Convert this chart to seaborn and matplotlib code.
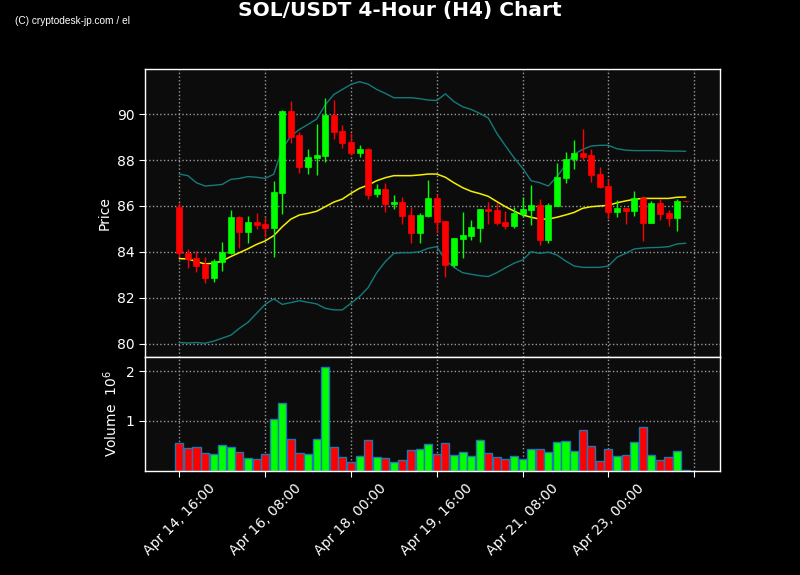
# SOL/USDT 4-hour candles with 20-period Bollinger bands and volume panel

import numpy as np
import pandas as pd
import seaborn as sns
import matplotlib
matplotlib.use("Agg")
import matplotlib.pyplot as plt

# candle values (index 0 = Apr 14 16:00, 4h steps)
opens = [85.97, 83.97, 83.74, 83.48, 82.88, 83.58, 83.97, 85.52, 84.88, 85.30,
         85.22, 85.06, 86.58, 90.13, 89.09, 87.71, 88.10, 88.19, 89.96, 89.26,
         88.78, 88.32, 88.48, 86.52, 86.74, 86.09, 86.17, 85.61, 84.83, 85.57,
         86.35, 85.33, 83.45, 84.57, 84.71, 85.06, 85.87, 85.83, 85.30, 85.14,
         85.67, 85.83, 86.04, 84.54, 86.00, 87.22, 88.04, 88.30, 88.20, 87.39,
         86.87, 85.75, 85.91, 85.80, 86.35, 85.28, 86.13, 85.70, 85.49, 86.22]
highs = [86.12, 84.12, 84.03, 83.77, 83.68, 84.45, 85.81, 85.58, 85.55, 85.68,
         85.51, 87.10, 90.17, 90.55, 89.23, 88.46, 89.55, 90.72, 90.61, 89.51,
         89.19, 88.64, 88.52, 86.97, 86.99, 86.46, 86.38, 85.96, 85.68, 87.12,
         86.51, 85.33, 84.59, 85.75, 85.38, 85.87, 86.19, 86.14, 85.80, 85.97,
         86.38, 86.90, 86.29, 86.12, 87.86, 88.33, 88.88, 89.33, 88.46, 87.71,
         87.16, 86.26, 85.91, 86.64, 86.42, 86.23, 86.29, 85.81, 86.29, 86.22]
lows = [83.80, 83.29, 83.12, 82.64, 82.68, 83.19, 83.90, 84.16, 84.41, 84.99,
        84.64, 83.77, 85.64, 88.72, 87.45, 87.38, 87.35, 87.93, 88.90, 88.51,
        88.22, 88.14, 86.29, 86.41, 85.75, 85.88, 85.23, 84.41, 84.41, 85.54,
        84.84, 82.93, 83.33, 83.72, 84.54, 84.42, 85.23, 85.17, 84.99, 85.03,
        85.51, 85.17, 84.30, 84.41, 85.98, 86.99, 87.59, 88.00, 87.06, 86.80,
        85.45, 85.51, 85.20, 85.57, 84.48, 85.28, 85.39, 85.12, 84.90, 86.18]
closes = [83.94, 83.68, 83.41, 82.88, 83.61, 83.99, 85.51, 84.88, 85.29, 85.17,
          85.06, 86.61, 90.13, 89.01, 87.71, 88.13, 88.22, 89.97, 89.23, 88.75,
          88.32, 88.48, 86.48, 86.74, 86.09, 86.19, 85.57, 84.83, 85.61, 86.35,
          85.30, 83.45, 84.59, 84.74, 85.09, 85.87, 85.78, 85.26, 85.14, 85.70,
          85.87, 86.04, 84.54, 86.04, 87.26, 88.04, 88.30, 88.13, 87.36, 86.84,
          85.75, 85.91, 85.80, 86.36, 85.28, 86.13, 85.67, 85.49, 86.22, 86.20]
# volume in millions
volumes = [0.56, 0.46, 0.48, 0.36, 0.34, 0.52, 0.48, 0.38, 0.26, 0.24,
           0.34, 1.04, 1.36, 0.64, 0.36, 0.34, 0.64, 2.08, 0.48, 0.28,
           0.18, 0.30, 0.62, 0.28, 0.26, 0.18, 0.22, 0.42, 0.44, 0.54,
           0.34, 0.56, 0.32, 0.38, 0.30, 0.62, 0.36, 0.28, 0.24, 0.30,
           0.24, 0.44, 0.44, 0.38, 0.58, 0.60, 0.40, 0.82, 0.50, 0.20,
           0.44, 0.30, 0.32, 0.58, 0.88, 0.32, 0.22, 0.28, 0.40, 0.01]
# Bollinger bands (20, 2)
bb_up = [87.39, 87.32, 87.01, 86.87, 86.90, 86.94, 87.16, 87.20, 87.28, 87.25,
         87.20, 87.38, 88.51, 89.04, 89.33, 89.55, 89.78, 90.40, 90.85, 91.07,
         91.29, 91.41, 91.30, 91.07, 90.90, 90.71, 90.71, 90.71, 90.67, 90.61,
         90.59, 90.88, 90.54, 90.32, 90.20, 90.03, 89.83, 89.16, 88.62, 88.10,
         87.64, 87.10, 87.01, 86.87, 87.28, 87.78, 88.25, 88.46, 88.61, 88.64,
         88.64, 88.49, 88.43, 88.41, 88.41, 88.41, 88.41, 88.39, 88.39, 88.38]
bb_mid = [83.71, 83.70, 83.58, 83.48, 83.51, 83.61, 83.80, 83.97, 84.14, 84.33,
          84.48, 84.71, 85.10, 85.43, 85.61, 85.68, 85.77, 85.97, 86.17, 86.30,
          86.55, 86.77, 86.91, 87.10, 87.23, 87.32, 87.32, 87.32, 87.35, 87.39,
          87.39, 87.25, 87.01, 86.80, 86.64, 86.54, 86.42, 86.19, 85.97, 85.78,
          85.61, 85.51, 85.43, 85.43, 85.51, 85.61, 85.72, 85.90, 85.97, 86.00,
          86.03, 86.14, 86.22, 86.29, 86.33, 86.33, 86.33, 86.33, 86.38, 86.39]
bb_low = [80.06, 80.04, 80.06, 80.03, 80.12, 80.25, 80.38, 80.68, 80.94, 81.33,
          81.72, 81.96, 81.72, 81.80, 81.88, 81.81, 81.74, 81.55, 81.48, 81.48,
          81.77, 82.06, 82.45, 83.10, 83.58, 83.94, 83.97, 83.97, 84.01, 84.16,
          84.23, 83.65, 83.33, 83.10, 83.03, 82.97, 82.93, 83.10, 83.31, 83.51,
          83.65, 84.01, 83.94, 83.99, 83.87, 83.61, 83.39, 83.33, 83.33, 83.33,
          83.39, 83.77, 83.94, 84.13, 84.17, 84.19, 84.20, 84.23, 84.35, 84.38]

tick_pos = [0, 10, 20, 30, 40, 50, 60]
tick_labels = ["Apr 14, 16:00", "Apr 16, 08:00", "Apr 18, 00:00",
               "Apr 19, 16:00", "Apr 21, 08:00", "Apr 23, 00:00", ""]

df = pd.DataFrame({"idx": np.arange(len(opens)), "open": opens, "high": highs,
                   "low": lows, "close": closes, "volume": volumes,
                   "up": bb_up, "mid": bb_mid, "lo": bb_low})
df["dir"] = np.where(df["close"] >= df["open"], "up", "down")

UP, DOWN = "#00ff00", "#ff0000"
colors = df["dir"].map({"up": UP, "down": DOWN})

sns.set_style("dark")
plt.rcParams.update({
    "figure.facecolor": "black",
    "axes.facecolor": "#0c0c0c",
    "axes.edgecolor": "white",
    "axes.labelcolor": "white",
    "xtick.color": "white",
    "ytick.color": "white",
    "text.color": "white",
    "xtick.bottom": True,
    "ytick.left": True,
    "font.family": ["DejaVu Sans"],
})

fig = plt.figure(figsize=(8, 5.75), dpi=100)
ax = fig.add_axes([0.18125, 0.3791, 0.71875, 0.5009])
axv = fig.add_axes([0.18125, 0.1809, 0.71875, 0.1982], sharex=ax)

# Bollinger bands
sns.lineplot(data=df, x="idx", y="up", color="#157a7a", linewidth=1, ax=ax)
sns.lineplot(data=df, x="idx", y="lo", color="#157a7a", linewidth=1, ax=ax)
sns.lineplot(data=df, x="idx", y="mid", color="#f5f000", linewidth=1.1, ax=ax)

# candles
ax.vlines(df["idx"], df["low"], df["high"], colors=colors, linewidth=1, zorder=3)
body_low = np.minimum(df["open"], df["close"])
body_h = np.maximum((df["close"] - df["open"]).abs(), 0.02)
ax.bar(df["idx"], body_h, bottom=body_low, width=0.7, color=colors,
       edgecolor=colors, linewidth=0.5, zorder=4)

# volume
sns.barplot(data=df, x="idx", y="volume", hue="dir",
            palette={"up": UP, "down": DOWN}, native_scale=True, dodge=False,
            saturation=1, width=0.94, edgecolor="#1f77b4", linewidth=1,
            legend=False, ax=axv)

for a in (ax, axv):
    a.grid(True, color="#9a9a9a", linestyle=":", linewidth=1)
    a.set_axisbelow(True)
    for s in a.spines.values():
        s.set_color("white")
        s.set_linewidth(1)
    a.tick_params(labelsize=10, length=4, color="white")

ax.set_xlim(-4, 63)
ax.set_ylim(79.43, 91.96)
ax.set_yticks([80, 82, 84, 86, 88, 90])
ax.set_ylabel("Price", fontsize=10)
ax.set_xlabel("")
ax.tick_params(axis="x", labelbottom=False)

axv.set_ylim(0, 2.28)
axv.set_yticks([1, 2])
axv.set_ylabel("Volume  $10^6$", fontsize=10)
axv.set_xlabel("")
axv.set_xticks(tick_pos)
axv.set_xticklabels(tick_labels, rotation=45, ha="center")
axv.set_xlim(-4, 63)

fig.suptitle("SOL/USDT 4-Hour (H4) Chart", fontsize=14.5, fontweight="bold",
             color="white", y=0.981, va="center")
fig.text(0.019, 0.963, "(C) cryptodesk-jp.com / el", fontsize=7.3,
         family=["Liberation Sans", "DejaVu Sans"], color="white", va="center")

plt.savefig("out.png", dpi=100, facecolor="black")
print("saved out.png")
